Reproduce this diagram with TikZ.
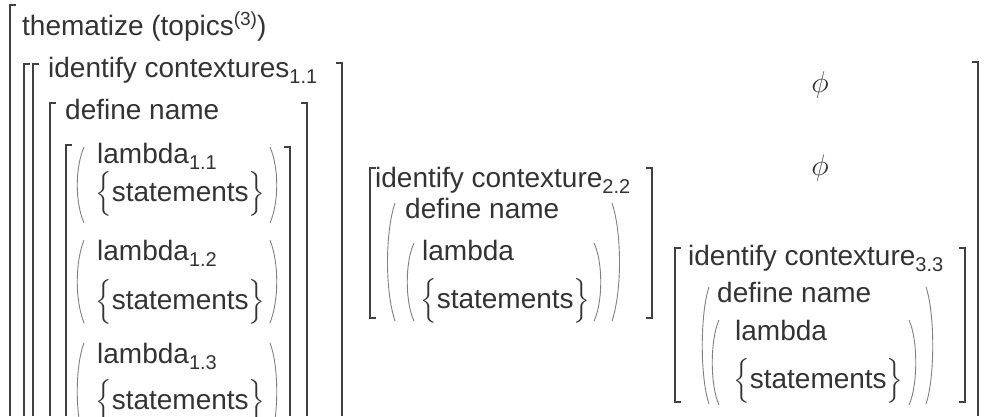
\RequirePackage{fix-cm}
\documentclass[tikz,border=0pt]{standalone}
\usepackage{amsmath}
\usepackage{fontspec}
\setmainfont{Liberation Sans}
\usepackage{tikz}

\newcommand{\ctxsub}[1]{\raisebox{-6pt}{\fontsize{20}{20}\selectfont #1}}
\newcommand{\ctxsup}[1]{\raisebox{10pt}{\fontsize{19}{19}\selectfont #1}}
\newcommand{\stmts}{$\smash{\bigl\{}$statements$\smash{\bigr\}}$}

\begin{document}
\begin{tikzpicture}[
    x=1pt, y=-1pt,
    lbl/.style={anchor=base west, inner sep=0pt, font=\fontsize{28}{32}\selectfont, text=black!80},
    nul/.style={anchor=center, inner sep=0pt, font=\fontsize{30}{34}\selectfont, text=black!80},
    brk/.style={line width=1.4pt, draw=black!75},
    paren/.style={line width=0.9pt, draw=black!50}
]
\useasboundingbox (0,0) rectangle (987,416);

% Outer level
\node[lbl] (theme) at (22,35) {thematize (topics\ctxsup{(3)})};
\draw[brk] (16,5) -| (10,416);
\draw[brk] (30,64) -| (24,416);
\draw[brk] (972,62) -| (978,416);

% Column 1: contextures 1.1
\draw[brk] (39,64) -| (33,416);
\draw[brk] (336,63) -| (342,416);
\node[lbl] (ctxA) at (48,77) {identify contextures\ctxsub{1.1}};
\draw[brk] (56,103) -| (50,416);
\draw[brk] (301,103) -| (307,416);
\node[lbl] (defA) at (65,119) {define name};
\draw[brk] (72,145) -| (66,416);
\draw[brk] (284,147) -| (290,416);

\draw[paren] (84,147) .. controls (75,168) and (75,202) .. (84,223);
\draw[paren] (270,147) .. controls (279,168) and (279,202) .. (270,223);
\node[lbl] (lamA1) at (97,163) {lambda\ctxsub{1.1}};
\node[lbl] (stA1) at (95,201) {\stmts};

\draw[paren] (84,240) .. controls (75,263) and (75,300) .. (84,323);
\draw[paren] (270,240) .. controls (279,263) and (279,300) .. (270,323);
\node[lbl] (lamA2) at (97,260) {lambda\ctxsub{1.2}};
\node[lbl] (stA2) at (95,309) {\stmts};

\draw[paren] (84,343) .. controls (75,366) and (75,417) .. (84,440);
\draw[paren] (270,343) .. controls (279,366) and (279,417) .. (270,440);
\node[lbl] (lamA3) at (97,363) {lambda\ctxsub{1.3}};
\node[lbl] (stA3) at (95,409) {\stmts};

% Column 2: contexture 2.2
\draw[brk] (376,168) -- (370,168) -- (370,318) -- (376,318);
\draw[brk] (646,168) -- (652,168) -- (652,318) -- (646,318);
\node[lbl] (ctxB) at (375,187) {identify contexture\ctxsub{2.2}};
\draw[paren] (395,203) .. controls (385,233) and (385,291) .. (395,321);
\draw[paren] (612,203) .. controls (622,233) and (622,291) .. (612,321);
\node[lbl] (defB) at (405,218) {define name};
\draw[paren] (414,243) .. controls (405,262) and (405,302) .. (414,321);
\draw[paren] (594,243) .. controls (603,262) and (603,302) .. (594,321);
\node[lbl] (lamB) at (422,260) {lambda};
\node[lbl] (stB) at (420,308) {\stmts};

% Column 3: contexture 3.3
\node[nul] (emptyA) at (820,85) {$\phi$};
\node[nul] (emptyB) at (820,168) {$\phi$};
\draw[brk] (681,248) -- (675,248) -- (675,402) -- (681,402);
\draw[brk] (959,248) -- (965,248) -- (965,402) -- (959,402);
\node[lbl] (ctxC) at (688,265) {identify contexture\ctxsub{3.3}};
\draw[paren] (709,287) .. controls (700,314) and (700,377) .. (709,404);
\draw[paren] (926,287) .. controls (935,314) and (935,377) .. (926,404);
\node[lbl] (defC) at (717,302) {define name};
\draw[paren] (719,320) .. controls (710,340) and (710,385) .. (719,405);
\draw[paren] (909,320) .. controls (918,340) and (918,385) .. (909,405);
\node[lbl] (lamC) at (735,340) {lambda};
\node[lbl] (stC) at (733,388) {\stmts};

\end{tikzpicture}
\end{document}
